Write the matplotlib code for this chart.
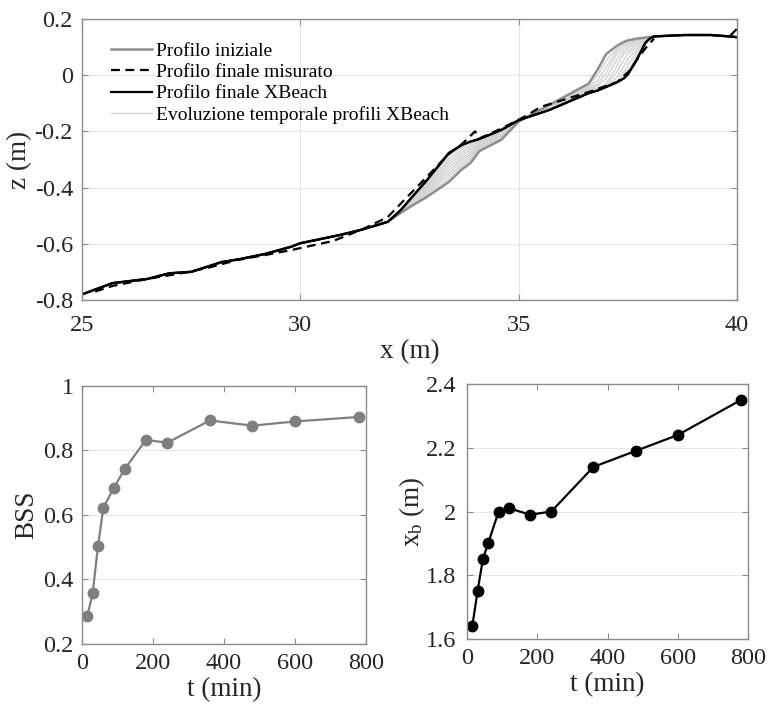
import numpy as np
import matplotlib
matplotlib.use("Agg")
import matplotlib.pyplot as plt

plt.rcParams['font.family'] = ['Liberation Serif', 'DejaVu Serif']
plt.rcParams['mathtext.fontset'] = 'custom'
plt.rcParams['mathtext.rm'] = 'Liberation Serif'
plt.rcParams['mathtext.it'] = 'Liberation Serif'

# --- profili (x in m, z in m) ---
x_prof = [25.0, 25.7, 26.5, 27.0, 27.5, 28.2, 28.6, 29.2, 29.8, 30.0, 30.9, 31.4,
          32.0, 32.3, 32.5, 32.9, 33.4, 33.7, 33.9, 34.1, 34.6, 35.0, 35.7, 36.6,
          36.8, 37.0, 37.25, 37.4, 37.5, 37.7, 37.9, 38.0, 38.1, 38.8, 39.4, 39.9, 40.0]
z_iniziale = [-0.78, -0.74, -0.725, -0.705, -0.70, -0.665, -0.655, -0.636, -0.61, -0.598,
              -0.569, -0.55, -0.522, -0.49, -0.47, -0.433, -0.38, -0.335, -0.312, -0.27,
              -0.23, -0.165, -0.106, -0.03, 0.018, 0.075, 0.105, 0.118, 0.124, 0.13,
              0.134, 0.136, 0.138, 0.143, 0.143, 0.137, 0.135]
z_xbeach = [-0.78, -0.74, -0.725, -0.705, -0.70, -0.665, -0.655, -0.636, -0.61, -0.598,
            -0.569, -0.55, -0.522, -0.48, -0.444, -0.373, -0.277, -0.248, -0.236, -0.227,
            -0.195, -0.16, -0.124, -0.064, -0.055, -0.042, -0.025, -0.012, 0.003, 0.054,
            0.115, 0.13, 0.138, 0.143, 0.143, 0.137, 0.135]

x_misurato = [25.3, 25.7, 26.5, 27.2, 27.9, 28.55, 29.2, 29.8, 30.75, 31.4, 32.0, 32.45,
              33.0, 33.4, 33.7, 34.0, 34.1, 34.6, 35.2, 35.5, 36.6, 37.25, 37.55, 37.75,
              37.95, 38.1, 38.2, 39.8, 39.85, 40.0]
z_misurato = [-0.77, -0.75, -0.725, -0.707, -0.685, -0.658, -0.64, -0.622, -0.59, -0.55,
              -0.505, -0.433, -0.345, -0.28, -0.245, -0.20, -0.225, -0.19, -0.142, -0.113,
              -0.06, -0.025, 0.018, 0.065, 0.105, 0.13, np.nan, np.nan, 0.142, 0.165]

# evoluzione temporale: quote nei nodi da x=32.3 a x=37.9 (indici 13..30)
i0, i1 = 13, 31
z_evoluzione = [
    [-0.489, -0.467, -0.427, -0.370, -0.326, -0.304, -0.266, -0.227, -0.165,
     -0.108, -0.034, -0.001, 0.052, 0.095, 0.111, 0.119, 0.128, 0.132],
    [-0.488, -0.465, -0.421, -0.359, -0.318, -0.297, -0.261, -0.223, -0.164,
     -0.110, -0.038, -0.020, 0.029, 0.086, 0.104, 0.113, 0.125, 0.131],
    [-0.487, -0.462, -0.415, -0.349, -0.309, -0.289, -0.257, -0.220, -0.164,
     -0.112, -0.042, -0.033, 0.008, 0.076, 0.094, 0.106, 0.122, 0.129],
    [-0.486, -0.460, -0.409, -0.339, -0.300, -0.282, -0.253, -0.216, -0.163,
     -0.114, -0.046, -0.040, -0.011, 0.055, 0.085, 0.097, 0.116, 0.126],
    [-0.485, -0.457, -0.403, -0.329, -0.292, -0.274, -0.249, -0.213, -0.163,
     -0.116, -0.050, -0.047, -0.030, 0.032, 0.075, 0.087, 0.109, 0.124],
    [-0.484, -0.454, -0.397, -0.318, -0.283, -0.266, -0.244, -0.209, -0.162,
     -0.118, -0.054, -0.054, -0.037, 0.011, 0.052, 0.077, 0.101, 0.119],
    [-0.483, -0.452, -0.391, -0.308, -0.274, -0.259, -0.240, -0.206, -0.162,
     -0.120, -0.058, -0.055, -0.042, -0.008, 0.029, 0.058, 0.092, 0.115],
    [-0.482, -0.449, -0.385, -0.298, -0.265, -0.251, -0.236, -0.202, -0.161,
     -0.122, -0.061, -0.055, -0.042, -0.025, 0.008, 0.035, 0.082, 0.115],
    [-0.481, -0.447, -0.379, -0.287, -0.257, -0.244, -0.231, -0.199, -0.161,
     -0.123, -0.063, -0.055, -0.042, -0.025, -0.011, 0.013, 0.069, 0.115],
]

# --- BSS e x_b nel tempo ---
t_min = [15, 30, 45, 60, 90, 120, 180, 240, 360, 480, 600, 780]
bss = [0.287, 0.358, 0.504, 0.622, 0.685, 0.742, 0.833, 0.824, 0.893, 0.877, 0.890, 0.904]
x_b = [1.64, 1.75, 1.85, 1.90, 2.00, 2.01, 1.99, 2.00, 2.14, 2.19, 2.24, 2.35]

spine_col = '#8c8c8c'
grid_col = '#e6e6e6'
txt_col = '#262626'
tick_fs = 17.5
label_fs = 19.5


def style_axes(ax, xpad, ypad):
    for s in ax.spines.values():
        s.set_color(spine_col)
        s.set_linewidth(1.0)
    ax.tick_params(direction='in', length=4, color=spine_col, labelsize=tick_fs,
                   top=True, right=True, labelcolor=txt_col)
    ax.tick_params(axis='x', pad=xpad)
    ax.tick_params(axis='y', pad=ypad)
    ax.set_axisbelow(True)


fig = plt.figure(figsize=(7.68, 7.09), dpi=100)

# pannello superiore
ax = fig.add_axes([0.1068, 0.5769, 0.8529, 0.3963])
ax.plot(x_prof, z_iniziale, color='#8e8e8e', lw=1.8, label='Profilo iniziale')
ax.plot(x_misurato, z_misurato, color='black', lw=1.6, ls=(0, (4, 2.5)),
        label='Profilo finale misurato')
ax.plot(x_prof, z_xbeach, color='black', lw=1.6, label='Profilo finale XBeach')
for k, row in enumerate(z_evoluzione):
    z_full = np.concatenate([z_iniziale[:i0], row, z_iniziale[i1:]])
    ax.plot(x_prof, z_full, color='#d2d2d2', lw=1.0,
            label='Evoluzione temporale profili XBeach' if k == 0 else None, zorder=1.5)
ax.plot(x_prof, z_xbeach, color='black', lw=1.6, zorder=2.5)
ax.set_xlim(25, 40)
ax.set_ylim(-0.8, 0.2)
ax.set_xticks([25, 30, 35, 40])
ax.set_yticks([-0.8, -0.6, -0.4, -0.2, 0, 0.2])
ax.set_yticklabels(['-0.8', '-0.6', '-0.4', '-0.2', '0', '0.2'])
ax.grid(True, color=grid_col, lw=0.8)
style_axes(ax, 11, 6.5)
ax.set_xlabel('x (m)', fontsize=label_fs, labelpad=2, color=txt_col)
ax.set_ylabel('z (m)', fontsize=label_fs, labelpad=2, color=txt_col)
handles, labels = ax.get_legend_handles_labels()
ax.legend(handles, labels, loc='upper left', bbox_to_anchor=(0.033, 0.945), frameon=False,
          fontsize=14, handlelength=2.1, handletextpad=0.2, labelspacing=0.19,
          borderaxespad=0)

# BSS
ax1 = fig.add_axes([0.1068, 0.0917, 0.3698, 0.3639])
ax1.plot(t_min, bss, color='#7f7f7f', lw=1.6, marker='o', ms=7.5)
ax1.set_xlim(0, 800)
ax1.set_ylim(0.2, 1)
ax1.set_xticks([0, 200, 400, 600, 800])
ax1.set_yticks([0.2, 0.4, 0.6, 0.8, 1.0])
ax1.set_yticklabels(['0.2', '0.4', '0.6', '0.8', '1'])
ax1.grid(True, axis='y', color=grid_col, lw=0.8)
style_axes(ax1, 6.5, 6)
ax1.set_xlabel('t (min)', fontsize=label_fs, labelpad=2, color=txt_col)
ax1.set_ylabel('BSS', fontsize=label_fs, labelpad=3, color=txt_col)

# x_b
ax2 = fig.add_axes([0.6081, 0.0987, 0.3659, 0.3597])
ax2.plot(t_min, x_b, color='black', lw=1.6, marker='o', ms=7.5)
ax2.set_xlim(0, 800)
ax2.set_ylim(1.6, 2.4)
ax2.set_xticks([0, 200, 400, 600, 800])
ax2.set_yticks([1.6, 1.8, 2.0, 2.2, 2.4])
ax2.set_yticklabels(['1.6', '1.8', '2', '2.2', '2.4'])
ax2.grid(True, axis='y', color=grid_col, lw=0.8)
style_axes(ax2, 6.5, 7.5)
ax2.set_xlabel('t (min)', fontsize=label_fs, labelpad=2, color=txt_col)
ax2.set_ylabel(r'x$_\mathrm{b}$ (m)', fontsize=label_fs, labelpad=-1, color=txt_col)

fig.savefig('out.png', dpi=100)
